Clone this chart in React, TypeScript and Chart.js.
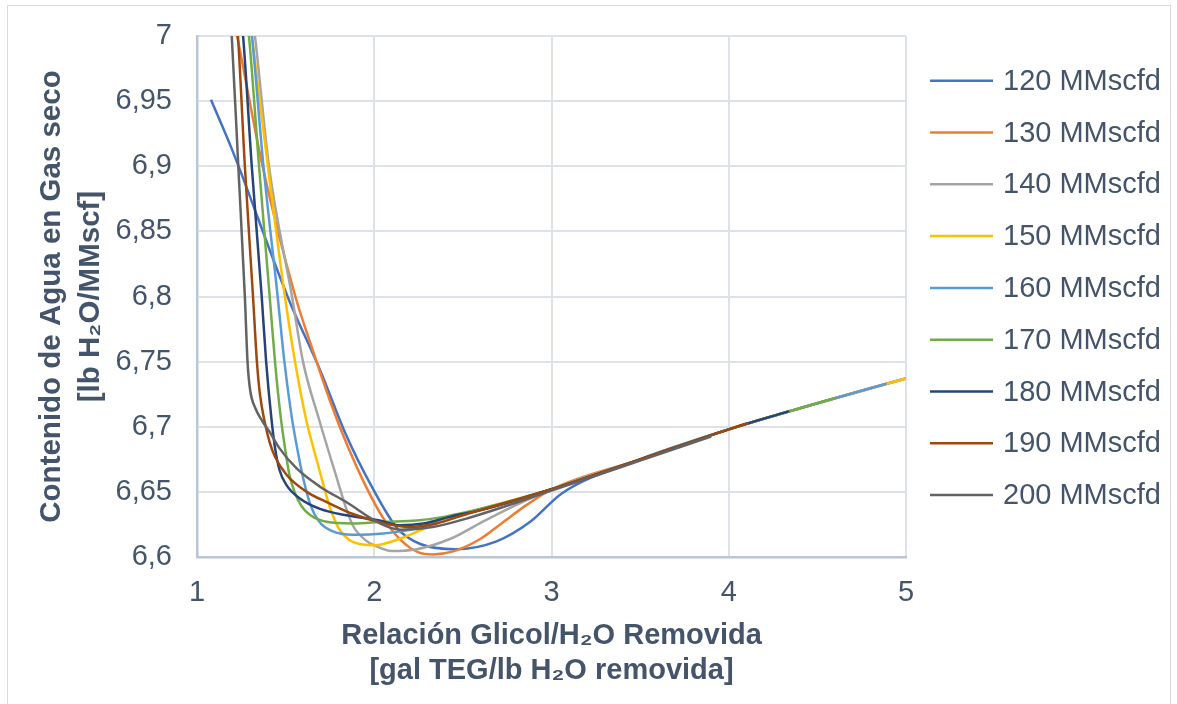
import React, { useEffect, useRef } from "react";
import { Chart, registerables } from "chart.js";

Chart.register(...registerables);

const FONT = "'Liberation Sans', Arial, sans-serif";
const TEXT = "#44546A";

const seriesLabels = [
  "120 MMscfd",
  "130 MMscfd",
  "140 MMscfd",
  "150 MMscfd",
  "160 MMscfd",
  "170 MMscfd",
  "180 MMscfd",
  "190 MMscfd",
  "200 MMscfd",
];
const seriesColors = [
  "#4472C4",
  "#ED7D31",
  "#A5A5A5",
  "#FFC000",
  "#5B9BD5",
  "#70AD47",
  "#264478",
  "#9E480E",
  "#636363",
];

const x120 = [1.079, 1.2, 1.52, 1.69, 1.84, 1.99, 2.13, 2.26, 2.46, 2.69, 2.88, 3.06, 3.5, 4.0, 4.5, 5.0, 6.52];
const y120 = [6.951, 6.912, 6.797, 6.745, 6.694, 6.653, 6.622, 6.61, 6.606, 6.612, 6.627, 6.649, 6.675, 6.698, 6.718, 6.737, 6.79];

const x130 = [1.1, 1.226, 1.37, 1.555, 1.65, 1.75, 1.85, 1.95, 2.05, 2.15, 2.25, 2.33, 2.45, 2.6, 2.72, 2.86, 3.0, 3.5, 4.0, 4.5, 5.0, 6.02];
const y130 = [7.08, 7.0, 6.9, 6.8, 6.76, 6.72, 6.685, 6.655, 6.63, 6.613, 6.6035, 6.602, 6.6045, 6.614, 6.626, 6.64, 6.652, 6.675, 6.698, 6.718, 6.737, 6.772];

const x140 = [1.25, 1.327, 1.406, 1.536, 1.598, 1.69, 1.79, 1.84, 1.88, 1.95, 2.0, 2.1, 2.24, 2.43, 2.61, 2.77, 3.0, 3.5, 4.0, 4.5, 5.0, 5.59];
const y140 = [7.08, 7.0, 6.9, 6.8, 6.75, 6.705, 6.66, 6.638, 6.624, 6.613, 6.609, 6.6046, 6.606, 6.614, 6.627, 6.638, 6.652, 6.675, 6.698, 6.718, 6.737, 6.759];

const x150 = [1.22, 1.31, 1.4, 1.496, 1.553, 1.615, 1.66, 1.7, 1.75, 1.8, 1.86, 1.92, 2.0, 2.145, 2.33, 2.52, 3.0, 3.5, 4.0, 4.5, 5.0, 5.21];
const y150 = [7.1, 7.0, 6.9, 6.8, 6.75, 6.706, 6.682, 6.662, 6.638, 6.622, 6.613, 6.61, 6.609, 6.614, 6.6246, 6.6335, 6.652, 6.675, 6.698, 6.718, 6.737, 6.745];

const x160 = [1.22, 1.31, 1.375, 1.455, 1.493, 1.535, 1.57, 1.6, 1.64, 1.69, 1.76, 1.88, 2.05, 2.24, 2.39, 2.6, 3.0, 3.5, 4.0, 4.5, 4.89];
const y160 = [7.1, 7.0, 6.9, 6.8, 6.75, 6.707, 6.68, 6.66, 6.64, 6.627, 6.62, 6.617, 6.618, 6.622, 6.6295, 6.636, 6.652, 6.675, 6.698, 6.718, 6.733];

const x170 = [1.2, 1.293, 1.35, 1.41, 1.44, 1.47, 1.495, 1.52, 1.55, 1.59, 1.64, 1.73, 1.88, 2.05, 2.24, 2.4, 2.6, 3.0, 3.5, 4.0, 4.5, 4.6];
const y170 = [7.1, 7.0, 6.9, 6.8, 6.75, 6.71, 6.685, 6.664, 6.65, 6.639, 6.632, 6.627, 6.6257, 6.627, 6.628, 6.631, 6.637, 6.652, 6.675, 6.698, 6.718, 6.722];

const x180 = [1.18, 1.26, 1.309, 1.365, 1.39, 1.42, 1.44, 1.465, 1.506, 1.58, 1.694, 1.844, 2.03, 2.145, 2.276, 2.43, 2.6, 3.0, 3.5, 4.0, 4.34];
const y180 = [7.1, 7.0, 6.9, 6.8, 6.75, 6.706, 6.684, 6.667, 6.655, 6.645, 6.637, 6.632, 6.628, 6.6244, 6.6257, 6.631, 6.636, 6.652, 6.675, 6.698, 6.712];

const x190 = [1.16, 1.231, 1.27, 1.316, 1.338, 1.355, 1.383, 1.41, 1.44, 1.506, 1.619, 1.75, 1.88, 2.05, 2.2, 2.35, 2.5, 3.0, 3.5, 4.0, 4.11];
const y190 = [7.1, 7.0, 6.9, 6.8, 6.75, 6.725, 6.703, 6.688, 6.677, 6.663, 6.65, 6.641, 6.633, 6.626, 6.623, 6.6257, 6.632, 6.652, 6.675, 6.698, 6.703];

const x200 = [1.14, 1.196, 1.233, 1.27, 1.285, 1.3, 1.33, 1.37, 1.41, 1.468, 1.562, 1.694, 1.844, 2.03, 2.145, 2.33, 2.52, 3.0, 3.5, 3.9];
const y200 = [7.1, 7.0, 6.9, 6.8, 6.75, 6.728, 6.714, 6.704, 6.696, 6.683, 6.668, 6.654, 6.642, 6.626, 6.621, 6.623, 6.6295, 6.651, 6.674, 6.6925];

const seriesX = [x120, x130, x140, x150, x160, x170, x180, x190, x200];
const seriesY = [y120, y130, y140, y150, y160, y170, y180, y190, y200];

const xMin = 1;
const xMax = 5;
const xStep = 1;
const yMin = 6.6;
const yMax = 7;
const yStep = 0.05;

const xTitle = ["Relación Glicol/H₂O Removida", "[gal TEG/lb H₂O removida]"];
const yTitle = ["Contenido de Agua en Gas seco", "[lb H₂O/MMscf]"];

const sideLegend = {
  id: "sideLegend",
  afterDraw(chart: any) {
    const { ctx, chartArea } = chart;
    ctx.save();
    const x0 = chartArea.right + 24;
    const x1 = x0 + 63;
    const top = 80.7;
    const gap = 51.8;
    chart.data.datasets.forEach((ds: any, i: number) => {
      const y = top + i * gap;
      ctx.strokeStyle = ds.borderColor;
      ctx.lineWidth = 2.5;
      ctx.beginPath();
      ctx.moveTo(x0, y);
      ctx.lineTo(x1, y);
      ctx.stroke();
      ctx.fillStyle = TEXT;
      ctx.font = `29px ${FONT}`;
      ctx.textAlign = "left";
      ctx.textBaseline = "middle";
      ctx.fillText(ds.label, x1 + 10, y + 1);
    });
    ctx.restore();
  },
};

export default function App() {
  const ref = useRef<HTMLCanvasElement>(null);

  useEffect(() => {
    if (!ref.current) return;
    const datasets = seriesLabels.map((label, i) => ({
      label,
      data: seriesX[i].map((x, j) => ({ x, y: seriesY[i][j] })),
      borderColor: seriesColors[i],
      backgroundColor: seriesColors[i],
      borderWidth: 2.5,
      pointRadius: 0,
      showLine: true,
      cubicInterpolationMode: "monotone" as const,
      order: seriesLabels.length - 1 - i,
    }));

    const chart = new Chart(ref.current, {
      type: "scatter",
      data: { datasets },
      plugins: [sideLegend],
      options: {
        animation: false,
        responsive: false,
        maintainAspectRatio: false,
        layout: { padding: { left: 0, top: 36, right: 271, bottom: 0 } },
        plugins: {
          legend: { display: false },
          tooltip: { enabled: false },
        },
        scales: {
          x: {
            type: "linear",
            min: xMin,
            max: xMax,
            ticks: {
              stepSize: xStep,
              padding: 19,
              color: TEXT,
              font: { family: FONT, size: 29 },
              maxRotation: 0,
            },
            grid: { color: "#DDE1E8", lineWidth: 2, drawTicks: false },
            border: { color: "#BCC5D2", width: 2.5 },
            title: {
              display: true,
              text: xTitle,
              color: TEXT,
              font: { family: FONT, size: 29, weight: "bold", lineHeight: 1.2 },
              padding: { top: 0, bottom: 16 },
            },
            afterFit: (scale: any) => {
              scale.height = 147;
            },
          },
          y: {
            type: "linear",
            min: yMin,
            max: yMax,
            ticks: {
              stepSize: yStep,
              padding: 0,
              color: TEXT,
              font: { family: FONT, size: 29 },
              callback: (v: any) => String(Math.round(Number(v) * 100) / 100).replace(".", ","),
            },
            grid: {
              color: "#DDE1E8",
              lineWidth: 2,
              drawTicks: true,
              tickLength: 25,
              tickColor: "rgba(0,0,0,0)",
            },
            border: { color: "#BCC5D2", width: 2.5 },
            title: {
              display: true,
              text: yTitle,
              color: TEXT,
              font: { family: FONT, size: 29.5, weight: "bold", lineHeight: 1.3 },
              padding: { top: 33, bottom: 0 },
            },
            afterFit: (scale: any) => {
              scale.width = 197;
            },
          },
        },
      },
    });
    return () => chart.destroy();
  }, []);

  return (
    <div
      style={{
        position: "absolute",
        left: 0,
        top: 0,
        width: 1177,
        height: 704,
        overflow: "hidden",
        background: "#ffffff",
      }}
    >
      <div
        style={{
          position: "absolute",
          left: 7,
          top: 5,
          width: 1164,
          height: 720,
          border: "1.5px solid #D9D9D9",
          boxSizing: "border-box",
        }}
      />
      <canvas
        ref={ref}
        width={1177}
        height={704}
        style={{ position: "absolute", left: 0, top: 0 }}
      />
    </div>
  );
}
